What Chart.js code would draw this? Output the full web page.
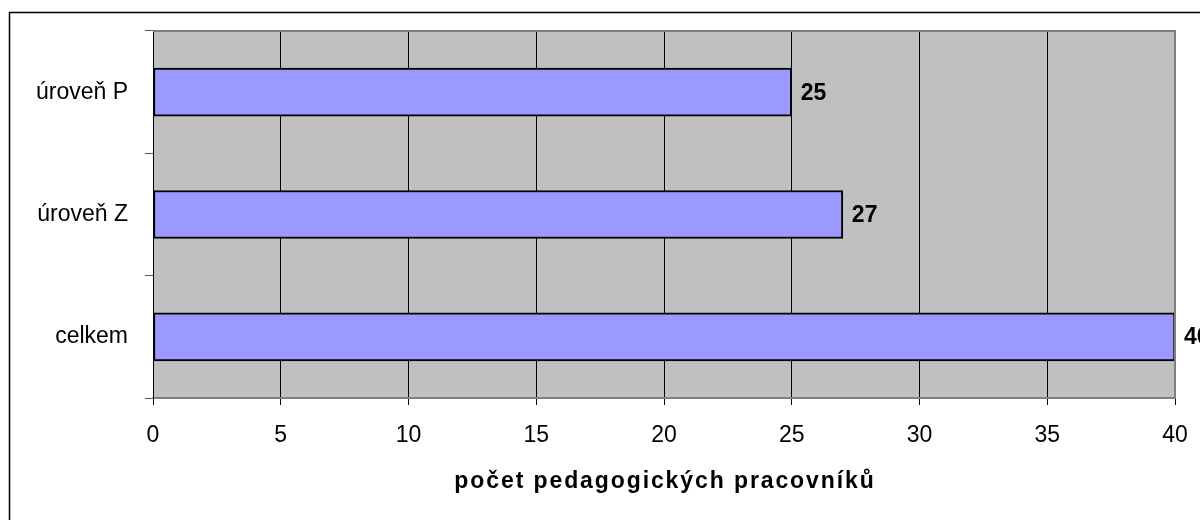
<!DOCTYPE html>
<html>
<head>
<meta charset="utf-8">
<script src="https://cdn.jsdelivr.net/npm/chart.js@4/dist/chart.umd.min.js"></script>
<style>
  html, body { margin: 0; padding: 0; background: #fff; }
  #wrap { width: 1200px; height: 520px; position: relative; }
</style>
</head>
<body>
<div id="wrap"><canvas id="c"></canvas></div>
<script>
const categories = ['úroveň P', 'úroveň Z', 'celkem'];
const values = [25, 27, 40];
const xMin = 0, xMax = 40, xStep = 5;
const axisTitle = 'počet pedagogických pracovníků';

const FONT = '"Liberation Sans", Arial, sans-serif';

const bgPlugin = {
  id: 'bg',
  beforeDraw(chart) {
    const ctx = chart.ctx;
    const a = chart.chartArea;
    ctx.save();
    ctx.fillStyle = '#ffffff';
    ctx.fillRect(0, 0, chart.width, chart.height);
    ctx.strokeStyle = '#000';
    ctx.lineWidth = 1.5;
    ctx.beginPath();
    ctx.moveTo(9.5, chart.height + 5);
    ctx.lineTo(9.5, 12.5);
    ctx.lineTo(chart.width + 5, 12.5);
    ctx.stroke();
    ctx.fillStyle = '#C0C0C0';
    ctx.fillRect(a.left, a.top, a.right - a.left, a.bottom - a.top);
    ctx.restore();
  },
  afterDatasetsDraw(chart) {
    const ctx = chart.ctx;
    const a = chart.chartArea;
    ctx.save();
    ctx.strokeStyle = '#808080';
    ctx.lineWidth = 2;
    ctx.beginPath();
    ctx.moveTo(a.left, a.top);
    ctx.lineTo(a.right, a.top);
    ctx.lineTo(a.right, a.bottom);
    ctx.stroke();
    const meta = chart.getDatasetMeta(0);
    ctx.fillStyle = '#000';
    ctx.font = 'bold 23px ' + FONT;
    ctx.textAlign = 'left';
    ctx.textBaseline = 'middle';
    meta.data.forEach((bar, i) => {
      ctx.fillText(String(values[i]), bar.x + 9, bar.y + 1);
    });
    ctx.restore();
  },
  afterDraw(chart) {
    const ctx = chart.ctx;
    const a = chart.chartArea;
    ctx.save();
    ctx.fillStyle = '#000';
    ctx.font = 'bold 23px ' + FONT;
    ctx.textAlign = 'center';
    ctx.textBaseline = 'middle';
    if ('letterSpacing' in ctx) ctx.letterSpacing = '1.9px';
    ctx.fillText(axisTitle, (a.left + a.right) / 2 + 1, 482);
    ctx.restore();
  }
};

new Chart(document.getElementById('c'), {
  type: 'bar',
  data: {
    labels: categories,
    datasets: [{
      data: values,
      backgroundColor: '#9999FF',
      borderColor: '#000000',
      borderWidth: 2,
      borderSkipped: false,
      barThickness: 48
    }]
  },
  options: {
    indexAxis: 'y',
    responsive: true,
    maintainAspectRatio: false,
    animation: false,
    layout: { padding: { top: 31, right: 25, left: 0, bottom: 0 } },
    plugins: {
      legend: { display: false },
      tooltip: { enabled: false }
    },
    scales: {
      x: {
        min: xMin, max: xMax,
        ticks: {
          stepSize: xStep,
          color: '#000',
          font: { family: FONT, size: 23 },
          padding: 17
        },
        grid: {
          color: '#000',
          lineWidth: 1,
          drawOnChartArea: true,
          drawTicks: true,
          tickLength: 7,
          tickColor: '#000'
        },
        border: { color: '#808080', width: 2 },
        title: { display: false },
        afterFit(scale) {
          scale.height = 122;
          scale.paddingLeft = 0;
          scale.paddingRight = 0;
        }
      },
      y: {
        ticks: {
          color: '#000',
          font: { family: FONT, size: 23 },
          padding: 17
        },
        grid: {
          drawOnChartArea: false,
          drawTicks: true,
          tickLength: 8,
          color: '#555',
          offset: true
        },
        border: { color: '#000', width: 1 },
        afterFit(scale) {
          scale.width = 153;
          scale.paddingTop = 0;
          scale.paddingBottom = 0;
        }
      }
    }
  },
  plugins: [bgPlugin]
});
</script>
</body>
</html>
